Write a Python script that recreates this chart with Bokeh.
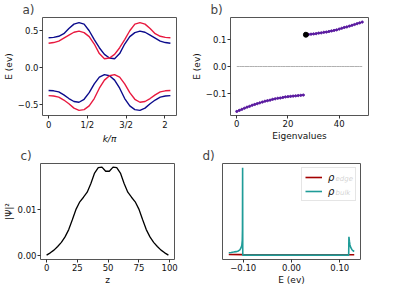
from bokeh.plotting import figure
from bokeh.layouts import row, column
from bokeh.models import FixedTicker, Range1d, Label, Legend, LegendItem
from bokeh.embed import file_html
from bokeh.resources import INLINE

FONT = "DejaVu Sans"

# ---------- panel a: band structure ----------
k_a = [0.0, 0.131, 0.262, 0.393, 0.524, 0.654, 0.785, 0.916, 1.047, 1.178, 1.309,
       1.440, 1.571, 1.702, 1.833, 1.963, 2.094, 2.225, 2.356, 2.487, 2.618, 2.749,
       2.880, 3.010, 3.142]
blue_up = [0.405, 0.41, 0.425, 0.46, 0.53, 0.59, 0.61, 0.59, 0.50, 0.38, 0.27, 0.18,
           0.13, 0.12, 0.19, 0.32, 0.42, 0.475, 0.495, 0.48, 0.44, 0.40, 0.36, 0.34, 0.33]
red_up = [0.33, 0.34, 0.36, 0.40, 0.44, 0.48, 0.495, 0.475, 0.42, 0.32, 0.19, 0.12,
          0.13, 0.18, 0.27, 0.38, 0.50, 0.59, 0.61, 0.59, 0.53, 0.46, 0.425, 0.41, 0.405]
blue_lo = [-0.31, -0.315, -0.33, -0.37, -0.42, -0.46, -0.47, -0.43, -0.34, -0.22, -0.13,
           -0.095, -0.11, -0.17, -0.28, -0.42, -0.52, -0.57, -0.58, -0.55, -0.49, -0.44,
           -0.40, -0.385, -0.38]
red_lo = [-0.38, -0.385, -0.40, -0.44, -0.49, -0.55, -0.58, -0.57, -0.52, -0.42, -0.28,
          -0.17, -0.11, -0.095, -0.13, -0.22, -0.34, -0.43, -0.47, -0.46, -0.42, -0.37,
          -0.33, -0.315, -0.31]
a_xticks = [0, 1, 2, 3]
a_xlabels = ["0", "1/2", "3/2", "2"]
a_yticks = [-0.5, 0.0, 0.5]
a_ylabels = ["\u22120.5", "0.0", "0.5"]

# ---------- panel b: eigenvalues ----------
idx_lo = list(range(0, 27))
E_lo = [-0.167, -0.163, -0.159, -0.155, -0.151, -0.148, -0.144, -0.141, -0.138, -0.135,
        -0.132, -0.129, -0.127, -0.125, -0.122, -0.120, -0.118, -0.117, -0.115, -0.113,
        -0.112, -0.111, -0.110, -0.109, -0.108, -0.107, -0.106]
idx_hi = list(range(27, 50))
E_hi = [0.118, 0.119, 0.120, 0.121, 0.122, 0.124, 0.125, 0.127, 0.128, 0.130, 0.132,
        0.134, 0.136, 0.139, 0.142, 0.145, 0.147, 0.150, 0.153, 0.156, 0.159, 0.162, 0.165]
idx_all = list(range(0, 50))
zero_line = [0.0] * 50
b_xticks = [0, 20, 40]
b_yticks = [-0.1, 0.0, 0.1]
b_ylabels = ["\u22120.1", "0.0", "0.1"]

# ---------- panel c: |psi|^2 ----------
z_c = list(range(0, 100, 3))
psi2 = [0.0000, 0.0005, 0.0011, 0.0019, 0.0028, 0.0040, 0.0056, 0.0078, 0.0101, 0.0117,
        0.0127, 0.0138, 0.0157, 0.0180, 0.0192, 0.0193, 0.0184,
        0.0184, 0.0193, 0.0192, 0.0180, 0.0157, 0.0138, 0.0127, 0.0117, 0.0101, 0.0078,
        0.0056, 0.0040, 0.0028, 0.0019, 0.0011, 0.0005, 0.0000]
c_xticks = [0, 25, 50, 75, 100]
c_yticks = [0.0, 0.01]
c_ylabels = ["0.00", "0.01"]

# ---------- panel d: density of states ----------
E_edge = [-0.130, -0.100, 0.000, 0.100, 0.130]
rho_edge = [0.008, 0.006, 0.004, 0.004, 0.004]
E_bulk = [-0.130, -0.125, -0.120, -0.115, -0.110, -0.107, -0.105, -0.103, -0.102,
          -0.1016, -0.1013, -0.1010, 0.1185, 0.1190, 0.1200, 0.1210, 0.1230, 0.1250,
          0.1275, 0.1300]
rho_bulk = [0.028, 0.031, 0.035, 0.040, 0.048, 0.060, 0.080, 0.110, 0.170,
            0.300, 1.000, 0.000, 0.000, 0.210, 0.160, 0.120, 0.085, 0.065,
            0.050, 0.042]
d_xticks = [-0.1, 0.0, 0.1]
d_xlabels = ["\u22120.10", "0.00", "0.10"]


def style(p, title):
    p.title.text = title
    p.title.text_font = FONT
    p.title.text_font_size = "12px"
    p.title.text_font_style = "normal"
    p.title.align = "left"
    p.title.offset = -20
    p.title.standoff = 1
    p.outline_line_color = "#555555"
    p.outline_line_width = 1
    p.xgrid.visible = False
    p.ygrid.visible = False
    p.background_fill_color = "white"
    p.border_fill_color = "white"
    for ax in p.axis:
        ax.axis_line_color = None
        ax.major_tick_in = 0
        ax.major_tick_out = 3
        ax.minor_tick_line_color = None
        ax.major_tick_line_color = "#333333"
        ax.major_label_text_font = FONT
        ax.major_label_text_font_size = "8.5px"
        ax.major_label_text_color = "#111111"
        ax.major_label_standoff = 1
        ax.axis_label_text_font = FONT
        ax.axis_label_text_font_size = "9px"
        ax.axis_label_text_font_style = "normal"
        ax.axis_label_text_color = "#111111"
        ax.axis_label_standoff = 1


def ticks(ax, vals, labels=None):
    ax.ticker = FixedTicker(ticks=vals)
    if labels is not None:
        ax.major_label_overrides = {v: l for v, l in zip(vals, labels)}


common = dict(output_backend="svg", toolbar_location=None, min_border_right=12)

# a
pa = figure(frame_width=134, frame_height=98, x_range=Range1d(-0.157, 3.299),
            y_range=Range1d(-0.65, 0.68), min_border_left=37, min_border_top=17,
            min_border_bottom=25, **common)
pa.line(k_a, blue_up, color="#0b0b8c", line_width=1.4)
pa.line(k_a, red_up, color="#e8193f", line_width=1.4)
pa.line(k_a, blue_lo, color="#0b0b8c", line_width=1.4)
pa.line(k_a, red_lo, color="#e8193f", line_width=1.4)
style(pa, "a)")
pa.xaxis.axis_label = "k/\u03c0"
pa.xaxis.axis_label_text_font_style = "italic"
pa.yaxis.axis_label = "E (ev)"
ticks(pa.xaxis[0], a_xticks, a_xlabels)
ticks(pa.yaxis[0], a_yticks, a_ylabels)

# b
pb = figure(frame_width=138, frame_height=98, x_range=Range1d(-2.45, 51.45),
            y_range=Range1d(-0.182, 0.182), min_border_left=36, min_border_top=17,
            min_border_bottom=25, **common)
pb.line(idx_all, zero_line, color="#b0b0b0", line_width=1)
pb.line(idx_lo, E_lo, color="#4b1490", line_width=1.0)
pb.scatter(idx_lo, E_lo, color="#5a1aa0", size=2.2)
pb.line(idx_hi, E_hi, color="#4b1490", line_width=1.0)
pb.scatter(idx_hi, E_hi, color="#5a1aa0", size=2.2)
pb.scatter(idx_hi[:1], E_hi[:1], color="black", size=5)
style(pb, "b)")
pb.xaxis.axis_label = "Eigenvalues"
pb.yaxis.axis_label = "E (ev)"
ticks(pb.xaxis[0], b_xticks)
ticks(pb.yaxis[0], b_yticks, b_ylabels)

# c
pc = figure(frame_width=134, frame_height=96, x_range=Range1d(-4.95, 103.95),
            y_range=Range1d(-0.00096, 0.0201), min_border_left=37, min_border_top=15,
            min_border_bottom=25, **common)
pc.line(z_c, psi2, color="black", line_width=1.3)
style(pc, "c)")
pc.xaxis.axis_label = "z"
pc.yaxis.axis_label = "|\u03a8|\u00b2"
ticks(pc.xaxis[0], c_xticks)
ticks(pc.yaxis[0], c_yticks, c_ylabels)

# d
pd_ = figure(frame_width=138, frame_height=96, x_range=Range1d(-0.143, 0.143),
             y_range=Range1d(-0.05, 1.05), min_border_left=36, min_border_top=15,
             min_border_bottom=25, **common)
r_edge = pd_.line(E_edge, rho_edge, color="#a30000", line_width=1.6)
r_bulk = pd_.line(E_bulk, rho_bulk, color="#1f9c98", line_width=1.6)
style(pd_, "d)")
pd_.yaxis.visible = False
pd_.xaxis.axis_label = "E (ev)"
ticks(pd_.xaxis[0], d_xticks, d_xlabels)
leg = Legend(items=[LegendItem(label="\u03c1", renderers=[r_edge]),
                    LegendItem(label="\u03c1", renderers=[r_bulk])],
             location="top_right", margin=4, padding=3, spacing=2,
             glyph_width=17, glyph_height=12, label_height=12, label_width=24,
             label_standoff=6, label_text_font=FONT, label_text_font_size="10px",
             label_text_font_style="italic", label_text_color="#111111",
             border_line_color="#cccccc", background_fill_alpha=0.8)
pd_.add_layout(leg)
pd_.add_layout(Label(x=113, y=77, x_units="screen", y_units="screen", text="edge",
                     text_font=FONT, text_font_size="7px", text_font_style="italic",
                     text_color="#111111"))
pd_.add_layout(Label(x=113, y=63, x_units="screen", y_units="screen", text="bulk",
                     text_font=FONT, text_font_size="7px", text_font_style="italic",
                     text_color="#111111"))

layout = column(row(pa, pb), row(pc, pd_))
open("out.html", "w").write(file_html(layout, INLINE))
